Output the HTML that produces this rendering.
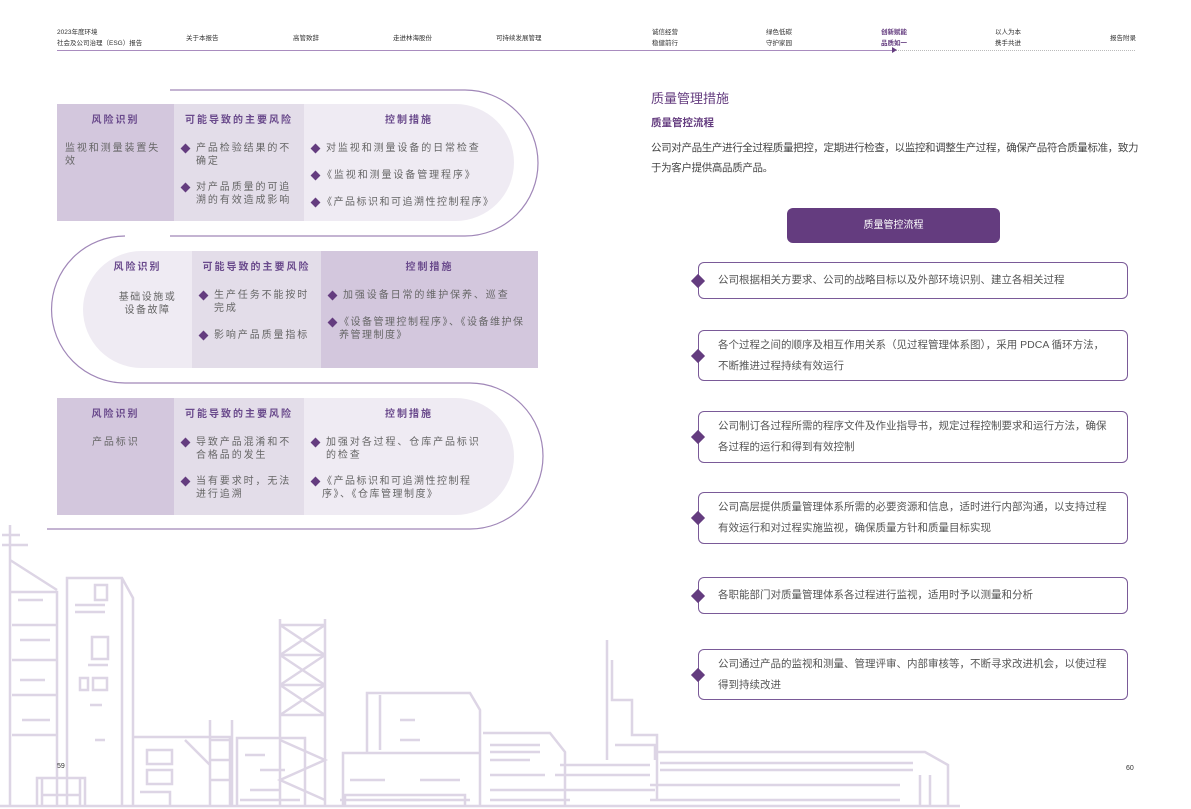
<!DOCTYPE html>
<html><head><meta charset="utf-8">
<style>
*{margin:0;padding:0;box-sizing:border-box}
body{width:1191px;height:809px;background:#fff;position:relative;overflow:hidden;font-family:"Liberation Sans","Noto Sans CJK SC",sans-serif;color:#555}
.a{position:absolute}
.nav{font-size:6.5px;color:#333;line-height:11px}
.tbl{position:absolute;display:flex;height:117px}
.c{position:relative;padding-top:7px}
.h{font-size:10px;font-weight:bold;color:#6a4a8c;letter-spacing:2px;text-align:center}
.b{font-size:10px;color:#666;letter-spacing:1.9px;line-height:13px}
.m .b{padding-right:8px}
.it{position:relative;padding-left:22px;margin-bottom:13px}
.it:before{content:"";position:absolute;left:8px;top:3px;width:7px;height:7px;background:#643c7f;transform:rotate(45deg)}
.box{position:absolute;left:698px;width:430px;border:1.2px solid #7a5a98;border-radius:6px;font-size:10.5px;color:#555;padding:0 14px 0 19px;display:flex;align-items:center;line-height:21px}
.box:before{content:"";position:absolute;left:-6px;top:50%;margin-top:-5px;width:10px;height:10px;background:#643c7f;transform:rotate(45deg)}
</style></head><body>
<div class="a nav" style="left:57px;top:27px">2023年度环境<br>社会及公司治理（ESG）报告</div>
<div class="a nav" style="left:186px;top:33px">关于本报告</div>
<div class="a nav" style="left:293px;top:33px">高管致辞</div>
<div class="a nav" style="left:393px;top:33px">走进林海股份</div>
<div class="a nav" style="left:496px;top:33px">可持续发展管理</div>
<div class="a nav" style="left:652px;top:27px">诚信经营<br>稳健前行</div>
<div class="a nav" style="left:766px;top:27px">绿色低碳<br>守护家园</div>
<div class="a nav" style="left:881px;top:27px;color:#643c7f;font-weight:bold">创新赋能<br>品质如一</div>
<div class="a nav" style="left:995px;top:27px">以人为本<br>携手共进</div>
<div class="a nav" style="left:1110px;top:33px">报告附录</div>
<div class="a" style="left:57px;top:50px;width:836px;height:1px;background:#a98cbf"></div>
<div class="a" style="left:893px;top:50px;width:242px;border-top:1px dotted #bbb"></div>
<div class="a" style="left:892px;top:47px;width:0;height:0;border-left:5px solid #643c7f;border-top:3.5px solid transparent;border-bottom:3.5px solid transparent"></div>

<svg class="a" style="left:0;top:500px" width="980" height="309" viewBox="0 500 980 309" fill="none" stroke="#ddd5e5" stroke-width="2.5">
<path d="M10 525V806M2 535H20M2 545H28M10 560L57 590M10 592H57V806M12 625H57M12 660H57M12 695H57M12 735H57"/>
<path d="M18 600h25M20 640h30M20 680h25M22 720h28"/>
<path d="M67 806V578H122L133 598V806M122 578V806M95 585h12v15h-12zM92 637h16v22h-16zM80 678h8v12h-8zM93 678h14v12h-14zM75 605h30M75 612h30M88 665h20M90 705h12M95 740h10"/>
<path d="M37 806V778H85V806M42 778V806M80 778V806M42 795H80"/>
<path d="M133 737H230V806M147 750h25v14h-25zM147 770h25v14h-25zM140 792h30V806M185 740l25 25M210 720V806M232 720V806M210 740h22M210 760h22M210 780h22"/>
<path d="M280 806V619M325 806V619M280 625h45M280 655h45M280 685h45M280 715h45M280 625L325 655M325 625L280 655M280 655L325 685M325 655L280 685M280 685L325 715M325 685L280 715M280 740L325 760L280 780L325 800"/>
<path d="M237 806V738H305V806M245 755h20M260 770h25M250 790h30M240 800h60"/>
<path d="M343 806V753H480V806M367 753V693H470L480 710V753M380 695V750M400 740H420M400 720h15M350 780h35M420 780h40M400 800h20"/>
<path d="M483 733H550L565 752V806M490 745h50M490 752h50M490 760h40M490 775h55M490 790h70M490 800h80"/>
<path d="M340 800H470M345 806V795h120v11"/>
<path d="M607 640V760M612 660V700h20V735h25V800M632 700V735M615 745h40v15"/>
<path d="M655 752H925L948 765V806M660 763H913M660 770H913M650 785H900M650 800H900M920 775V806M930 775V806"/>
<path d="M560 765h90M555 775h95M560 790h95M0 806H960"/>
</svg>
<div class="a" style="left:57px;top:763px;font-size:7px;color:#333">59</div>
<div class="a" style="left:1126px;top:765px;font-size:7px;color:#333">60</div>

<svg class="a" style="left:0;top:0" width="600" height="560" fill="none" stroke="#a087b8" stroke-width="1.2">
<path d="M170 90H465A72 72 0 0 1 465 236H170"/>
<path d="M125 236A73 73 0 0 0 125 383H470A73 73 0 0 1 470 529H47"/>
</svg>

<div class="tbl" style="left:57px;top:104px;width:457px">
 <div class="c" style="width:117px;background:#d3c7dd"><div class="h">风险识别</div><div class="b" style="padding:16px 6px 0 8px">监视和测量装置失效</div></div>
 <div class="c m" style="width:130px;background:#e3dde9"><div class="h">可能导致的主要风险</div><div style="padding-top:16px" class="b"><div class="it">产品检验结果的不确定</div><div class="it">对产品质量的可追溯的有效造成影响</div></div></div>
 <div class="c" style="width:210px;background:#efebf3;border-radius:0 60px 60px 0"><div class="h">控制措施</div><div style="padding-top:16px" class="b"><div class="it" style="margin-bottom:14px">对监视和测量设备的日常检查</div><div class="it" style="padding-left:18px;margin-bottom:14px">《监视和测量设备管理程序》</div><div class="it" style="padding-left:18px;letter-spacing:1.5px;white-space:nowrap">《产品标识和可追溯性控制程序》</div></div></div>
</div>
<div class="tbl" style="left:83px;top:251px;width:455px">
 <div class="c" style="width:109px;background:#efebf3;border-radius:60px 0 0 60px"><div class="h">风险识别</div><div class="b" style="padding:18px 0 0 20px;text-align:center;letter-spacing:1.5px">基础设施或<br>设备故障</div></div>
 <div class="c m" style="width:129px;background:#e3dde9"><div class="h">可能导致的主要风险</div><div style="padding-top:16px" class="b"><div class="it" style="margin-bottom:14px">生产任务不能按时完成</div><div class="it">影响产品质量指标</div></div></div>
 <div class="c" style="width:217px;background:#d3c7dd"><div class="h">控制措施</div><div style="padding:16px 10px 0 0" class="b"><div class="it" style="margin-bottom:14px">加强设备日常的维护保养、巡查</div><div class="it" style="padding-left:18px;letter-spacing:1.5px">《设备管理控制程序》、《设备维护保养管理制度》</div></div></div>
</div>
<div class="tbl" style="left:57px;top:398px;width:457px">
 <div class="c" style="width:117px;background:#d3c7dd"><div class="h">风险识别</div><div class="b" style="padding:16px 0 0 35px">产品标识</div></div>
 <div class="c m" style="width:130px;background:#e3dde9"><div class="h">可能导致的主要风险</div><div style="padding-top:16px" class="b"><div class="it">导致产品混淆和不合格品的发生</div><div class="it">当有要求时，无法进行追溯</div></div></div>
 <div class="c" style="width:210px;background:#efebf3;border-radius:0 60px 60px 0"><div class="h">控制措施</div><div style="padding:16px 25px 0 0" class="b"><div class="it">加强对各过程、仓库产品标识的检查</div><div class="it" style="padding-left:18px;letter-spacing:1.5px">《产品标识和可追溯性控制程序》、《仓库管理制度》</div></div></div>
</div>

<div class="a" style="left:651px;top:88px;font-size:13px;color:#643c7f">质量管理措施</div>
<div class="a" style="left:651px;top:115px;font-size:10.5px;color:#643c7f;font-weight:bold">质量管控流程</div>
<div class="a" style="left:651px;top:138px;width:492px;font-size:10.5px;color:#444;line-height:20px;letter-spacing:-0.35px">公司对产品生产进行全过程质量把控，定期进行检查，以监控和调整生产过程，确保产品符合质量标准，致力于为客户提供高品质产品。</div>
<div class="a" style="left:787px;top:208px;width:213px;height:35px;background:#643c7f;border-radius:6px;color:#fff;font-size:10px;text-align:center;line-height:35px">质量管控流程</div>
<div class="box" style="top:262px;height:37px">公司根据相关方要求、公司的战略目标以及外部环境识别、建立各相关过程</div>
<div class="box" style="top:330px;height:51px">各个过程之间的顺序及相互作用关系（见过程管理体系图），采用 PDCA 循环方法，不断推进过程持续有效运行</div>
<div class="box" style="top:411px;height:52px">公司制订各过程所需的程序文件及作业指导书，规定过程控制要求和运行方法，确保各过程的运行和得到有效控制</div>
<div class="box" style="top:492px;height:52px">公司高层提供质量管理体系所需的必要资源和信息，适时进行内部沟通，以支持过程有效运行和对过程实施监视，确保质量方针和质量目标实现</div>
<div class="box" style="top:577px;height:37px">各职能部门对质量管理体系各过程进行监视，适用时予以测量和分析</div>
<div class="box" style="top:649px;height:51px">公司通过产品的监视和测量、管理评审、内部审核等，不断寻求改进机会，以使过程得到持续改进</div>
</body></html>
